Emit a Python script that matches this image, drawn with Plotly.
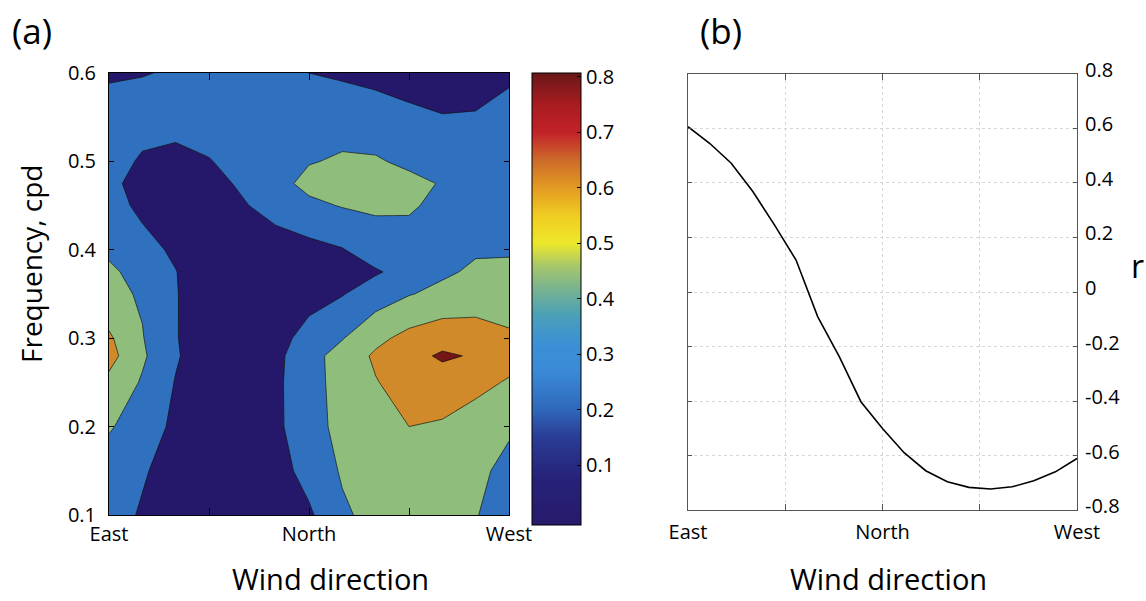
import plotly.graph_objects as go

# ---------------- data ----------------
DIRECTION = [0, 15, 30, 45, 60, 75, 90, 105, 120, 135, 150, 165, 180]
FREQUENCY = [0.10, 0.15, 0.20, 0.25, 0.28, 0.30, 0.35, 0.375, 0.40, 0.45, 0.475, 0.50, 0.55, 0.60]
COHERENCE = [
    [0.28, 0.18, 0.10, 0.05, 0.04, 0.08, 0.17, 0.37, 0.46, 0.50, 0.47, 0.41, 0.30],
    [0.30, 0.22, 0.12, 0.06, 0.05, 0.12, 0.27, 0.42, 0.50, 0.53, 0.50, 0.45, 0.34],
    [0.42, 0.30, 0.16, 0.07, 0.06, 0.16, 0.32, 0.46, 0.55, 0.60, 0.58, 0.50, 0.43],
    [0.55, 0.38, 0.19, 0.08, 0.06, 0.16, 0.33, 0.47, 0.59, 0.68, 0.70, 0.66, 0.58],
    [0.67, 0.43, 0.22, 0.08, 0.05, 0.15, 0.33, 0.48, 0.63, 0.73, 0.83, 0.78, 0.68],
    [0.63, 0.41, 0.21, 0.09, 0.06, 0.12, 0.28, 0.39, 0.55, 0.66, 0.72, 0.70, 0.63],
    [0.45, 0.38, 0.21, 0.09, 0.07, 0.08, 0.12, 0.19, 0.30, 0.39, 0.45, 0.49, 0.50],
    [0.43, 0.34, 0.205, 0.09, 0.07, 0.08, 0.10, 0.13, 0.18, 0.27, 0.37, 0.43, 0.44],
    [0.37, 0.26, 0.17, 0.10, 0.08, 0.10, 0.14, 0.19, 0.30, 0.33, 0.34, 0.38, 0.38],
    [0.27, 0.16, 0.08, 0.10, 0.18, 0.28, 0.36, 0.41, 0.43, 0.42, 0.36, 0.30, 0.29],
    [0.24, 0.14, 0.10, 0.13, 0.23, 0.34, 0.45, 0.46, 0.46, 0.44, 0.39, 0.32, 0.30],
    [0.30, 0.17, 0.14, 0.19, 0.27, 0.33, 0.39, 0.42, 0.415, 0.37, 0.32, 0.30, 0.30],
    [0.30, 0.30, 0.28, 0.30, 0.30, 0.32, 0.33, 0.33, 0.31, 0.25, 0.21, 0.22, 0.30],
    [0.17, 0.19, 0.22, 0.23, 0.23, 0.22, 0.20, 0.17, 0.13, 0.10, 0.08, 0.08, 0.15],
]
CONTOUR_START, CONTOUR_END, CONTOUR_STEP = 0.2, 0.8, 0.2
BAND_COLORS = ["#25186a", "#2f71bf", "#8fbe7c", "#d08a2a", "#741616"]

DIR_TICK_VALUES = [0, 45, 90, 135, 180]
DIR_TICK_TEXT = ["East", "", "North", "", "West"]
FREQ_TICK_VALUES = [0.1, 0.2, 0.3, 0.4, 0.5, 0.6]
FREQ_TICK_TEXT = ["0.1", "0.2", "0.3", "0.4", "0.5", "0.6"]
CBAR_MIN, CBAR_MAX = -0.008, 0.807
CBAR_TICK_VALUES = [0.1, 0.2, 0.3, 0.4, 0.5, 0.6, 0.7, 0.8]
CBAR_TICK_TEXT = ["0.1", "0.2", "0.3", "0.4", "0.5", "0.6", "0.7", "0.8"]
CBAR_STOPS = [-0.008, 0.08, 0.15, 0.2, 0.27, 0.32, 0.37, 0.42, 0.46, 0.5, 0.55, 0.6, 0.65, 0.7, 0.75, 0.807]
CBAR_COLORS = ["#261a6b", "#27237a", "#2a3c95", "#2f68ba", "#3a8ad8", "#3c90d4", "#4aa0b8",
               "#7ab48e", "#a8c868", "#ede82a", "#f0cc22", "#e39a22", "#cc6a2a", "#c22228",
               "#a81c20", "#6a1818"]

LINE_DIRECTION = [0, 10, 20, 30, 40, 50, 60, 70, 80, 90, 100, 110, 120, 130, 140, 150, 160, 170, 180]
LINE_R = [0.606, 0.545, 0.472, 0.368, 0.246, 0.117, -0.09, -0.237, -0.402, -0.50, -0.589,
          -0.655, -0.695, -0.716, -0.722, -0.714, -0.692, -0.659, -0.61]
R_TICK_VALUES = [-0.8, -0.6, -0.4, -0.2, 0, 0.2, 0.4, 0.6, 0.8]
R_TICK_TEXT = ["-0.8", "-0.6", "-0.4", "-0.2", "0", "0.2", "0.4", "0.6", "0.8"]

# ---------------- layout helpers ----------------
W, H = 1146, 601
FONT = "Open Sans"


def fx(p):
    return p / W


def fy(p):
    return 1 - p / H


# stepped colourscale so each contour band gets a flat colour
n_b = len(BAND_COLORS)
edges = [0] + [(i + 0.5) / (n_b - 1) for i in range(n_b - 1)] + [1]
band_scale = []
for i, c in enumerate(BAND_COLORS):
    band_scale.append([edges[i], c])
    band_scale.append([edges[i + 1], c])

cbar_scale = [[(v - CBAR_MIN) / (CBAR_MAX - CBAR_MIN), c] for v, c in zip(CBAR_STOPS, CBAR_COLORS)]
cbar_scale[0][0] = 0.0
cbar_scale[-1][0] = 1.0

fig = go.Figure()

fig.add_trace(go.Contour(
    x=DIRECTION, y=FREQUENCY, z=COHERENCE,
    autocontour=False,
    contours=dict(start=CONTOUR_START, end=CONTOUR_END, size=CONTOUR_STEP,
                  coloring="fill", showlines=True),
    line=dict(color="#111111", width=0.7, smoothing=0),
    colorscale=band_scale, showscale=False, hoverinfo="skip",
    xaxis="x", yaxis="y",
))

# continuous colour bar
fig.add_trace(go.Scatter(
    x=[90, 90], y=[0.35, 0.35], mode="markers", hoverinfo="skip", showlegend=False,
    marker=dict(size=1, opacity=0, color=[CBAR_MIN, CBAR_MAX], cmin=CBAR_MIN, cmax=CBAR_MAX,
                colorscale=cbar_scale, showscale=True,
                colorbar=dict(x=fx(532), xanchor="left", xpad=0,
                              y=fy(299), yanchor="middle", ypad=0,
                              thickness=49, thicknessmode="pixels",
                              len=452 / H, lenmode="fraction",
                              outlinewidth=1, outlinecolor="black",
                              tickvals=CBAR_TICK_VALUES, ticktext=CBAR_TICK_TEXT,
                              ticks="inside", ticklen=4, tickcolor="black",
                              tickfont=dict(family=FONT, size=20, color="black"))),
    xaxis="x", yaxis="y",
))

fig.add_trace(go.Scatter(
    x=LINE_DIRECTION, y=LINE_R, mode="lines", showlegend=False,
    line=dict(color="black", width=1.6), xaxis="x2", yaxis="y2",
))

tickfont = dict(family=FONT, size=20, color="black")

fig.update_layout(
    width=W, height=H, margin=dict(l=0, r=0, t=0, b=0, pad=0, autoexpand=False),
    paper_bgcolor="white", plot_bgcolor="white", showlegend=False,
    xaxis=dict(domain=[fx(109), fx(509)], range=[0, 180], anchor="y",
               tickvals=DIR_TICK_VALUES, ticktext=DIR_TICK_TEXT,
               ticks="inside", ticklen=7, tickcolor="black", tickwidth=1,
               showline=True, linecolor="black", linewidth=1, mirror="ticks",
               showgrid=False, zeroline=False, tickfont=tickfont, ticklabelstandoff=1,
               automargin=False),
    yaxis=dict(domain=[fy(515), fy(73)], range=[0.1, 0.6], anchor="x",
               tickvals=FREQ_TICK_VALUES, ticktext=FREQ_TICK_TEXT,
               ticks="inside", ticklen=5, tickcolor="black", tickwidth=1,
               showline=True, linecolor="black", linewidth=1, mirror="ticks",
               showgrid=False, zeroline=False, tickfont=tickfont, ticklabelstandoff=8,
               automargin=False),
    xaxis2=dict(domain=[fx(688), fx(1077)], range=[0, 180], anchor="y2",
                tickvals=DIR_TICK_VALUES, ticktext=DIR_TICK_TEXT,
                ticks="inside", ticklen=6, tickcolor="#555555", tickwidth=1,
                showline=True, linecolor="#555555", linewidth=1, mirror="ticks",
                showgrid=True, gridcolor="#d6d6d6", griddash="dot", gridwidth=1,
                zeroline=False, tickfont=tickfont, ticklabelstandoff=4,
                automargin=False),
    yaxis2=dict(domain=[fy(510.3), fy(73.7)], range=[-0.8, 0.8], anchor="x2", side="right",
                tickvals=R_TICK_VALUES, ticktext=R_TICK_TEXT,
                ticks="inside", ticklen=4, tickcolor="#555555", tickwidth=1,
                showline=True, linecolor="#555555", linewidth=1, mirror="ticks",
                showgrid=True, gridcolor="#d6d6d6", griddash="dot", gridwidth=1,
                zeroline=False, tickfont=tickfont, ticklabelstandoff=3, ticklabelshift=-4,
                automargin=False),
)

ann_font = dict(family=FONT, color="black")
annotations = [
    dict(text="(a)", x=fx(10), y=fy(31), xanchor="left", yanchor="middle", font=dict(size=35, **ann_font)),
    dict(text="(b)", x=fx(698), y=fy(31), xanchor="left", yanchor="middle", font=dict(size=35, **ann_font)),
    dict(text="Frequency, cpd", x=fx(31), y=fy(264), xanchor="center", yanchor="middle",
         textangle=-90, font=dict(size=28, **ann_font)),
    dict(text="Wind direction", x=fx(330), y=fy(600), xanchor="center", yanchor="bottom",
         font=dict(size=29, **ann_font)),
    dict(text="Wind direction", x=fx(888), y=fy(600), xanchor="center", yanchor="bottom",
         font=dict(size=29, **ann_font)),
    dict(text="r", x=fx(1137), y=fy(265), xanchor="center", yanchor="middle",
         font=dict(size=32, **ann_font)),
]
for a in annotations:
    a.update(xref="paper", yref="paper", showarrow=False)
fig.update_layout(annotations=annotations)

fig.write_html("out.html")
